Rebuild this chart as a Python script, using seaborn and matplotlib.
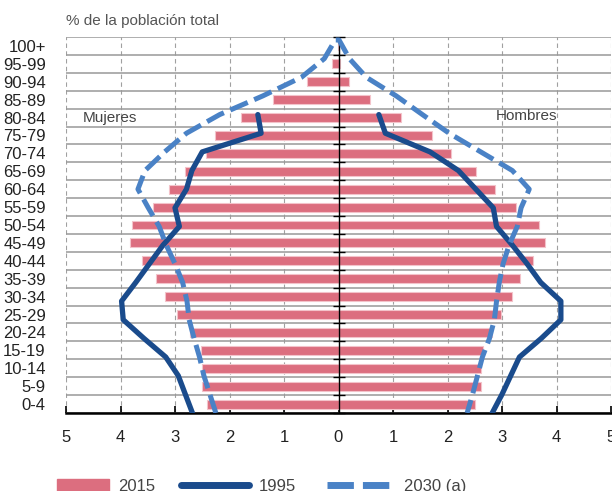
import numpy as np
import pandas as pd
import matplotlib
matplotlib.use("Agg")
import matplotlib.pyplot as plt
import matplotlib.lines as mlines
import matplotlib.patches as mpatches
import seaborn as sns

# Age groups, bottom (0-4) to top (100+)
ages = ["0-4", "5-9", "10-14", "15-19", "20-24", "25-29", "30-34", "35-39",
        "40-44", "45-49", "50-54", "55-59", "60-64", "65-69", "70-74",
        "75-79", "80-84", "85-89", "90-94", "95-99", "100+"]

# 2015 bars (% of total population)
women_2015 = [2.41, 2.51, 2.50, 2.53, 2.72, 2.97, 3.19, 3.34, 3.60, 3.83, 3.78,
              3.41, 3.11, 2.82, 2.44, 2.27, 1.79, 1.20, 0.58, 0.12, 0.01]
men_2015 = [2.51, 2.62, 2.62, 2.66, 2.81, 2.99, 3.18, 3.33, 3.57, 3.79, 3.68,
            3.25, 2.88, 2.52, 2.06, 1.72, 1.14, 0.58, 0.19, 0.02, 0.01]

# 1995 lines (no data above 80-84)
women_1995 = [2.68, 2.81, 2.94, 3.17, 3.57, 3.95, 3.98, 3.72, 3.47, 3.22, 2.92,
              3.00, 2.79, 2.69, 2.50, 1.42, 1.48, np.nan, np.nan, np.nan, np.nan]
men_1995 = [2.82, 3.00, 3.16, 3.32, 3.72, 4.08, 4.08, 3.71, 3.46, 3.19, 2.90,
            2.84, 2.52, 2.20, 1.68, 0.86, 0.74, np.nan, np.nan, np.nan, np.nan]

# 2030 projection
women_2030 = [2.25, 2.36, 2.47, 2.55, 2.65, 2.74, 2.78, 2.86, 3.00, 3.16, 3.29,
              3.49, 3.68, 3.55, 3.19, 2.79, 2.18, 1.39, 0.68, 0.26, 0.06]
men_2030 = [2.36, 2.46, 2.55, 2.64, 2.77, 2.86, 2.90, 2.95, 3.02, 3.13, 3.28,
            3.35, 3.50, 3.19, 2.61, 2.03, 1.54, 1.06, 0.51, 0.20, 0.01]

x_ticks = [-5, -4, -3, -2, -1, 0, 1, 2, 3, 4, 5]

pink = "#dc6e7f"
dark_blue = "#1a4b8c"
light_blue = "#4a82c6"

sns.set_style("white")
plt.rcParams["font.family"] = ["Liberation Sans", "DejaVu Sans"]

fig = plt.figure(figsize=(6.12, 4.91), dpi=100)
ax = fig.add_axes([66 / 612, 78 / 491, 545 / 612, 376 / 491])
# twin axis for the lines (created first: twinx resets tick positions)
ax2 = ax.twinx()

# Bars (women on the left as negative values)
women = pd.DataFrame({"age": ages, "value": [-v for v in women_2015]})
men = pd.DataFrame({"age": ages, "value": men_2015})
for part in [women, men]:
    sns.barplot(data=part, x="value", y="age", order=ages[::-1], orient="h",
                color=pink, saturation=1, width=0.5, edgecolor="#f3c3ca",
                linewidth=0.8, errorbar=None, zorder=2, ax=ax)

ax.set_xlim(-5, 5)
ax.set_ylim(20.5, -0.5)
ax.set_xticks(x_ticks)
ax.set_xticklabels([str(abs(t)) for t in x_ticks])
ax.set_xlabel("")
ax.set_ylabel("")

# Grid: dashed verticals, solid horizontals between age groups
ax.grid(axis="x", which="major", ls=(0, (4, 3)), color="#a0a0a0", lw=0.8)
ax.set_axisbelow(True)
bounds = np.arange(len(ages) + 1) - 0.5
ax.hlines(bounds, -5, 5, colors="#999999", lw=1.1, zorder=0.8)

# Center axis with tick marks at group boundaries
for s in ["top", "left", "right"]:
    ax.spines[s].set_visible(False)
ax.axvline(0, color="black", lw=1.0, zorder=3)
ax.plot(np.zeros(len(bounds)), bounds, ls="none", marker="_", ms=8,
        mew=1.0, color="black", zorder=3, clip_on=False)
ax.spines["bottom"].set_color("black")
ax.spines["bottom"].set_linewidth(1.8)
ax.tick_params(axis="y", which="major", left=False, right=False,
               labelleft=True, labelright=False, pad=11,
               labelsize=12, labelcolor="#222222")
ax.tick_params(axis="x", which="major", bottom=True, direction="in",
               length=5, width=1.2, color="black", pad=12,
               labelsize=12, labelcolor="#222222")

# Lines on the twin axis (Excel-like secondary scale)
pos = np.arange(len(ages))
sns.lineplot(x=-np.array(women_1995), y=pos, sort=False, estimator=None,
             color=dark_blue, lw=3.8, ax=ax2)
sns.lineplot(x=np.array(men_1995), y=pos, sort=False, estimator=None,
             color=dark_blue, lw=3.8, ax=ax2)

x_2030 = np.concatenate([-np.array(women_2030), np.array(men_2030)[::-1]])
y_2030 = np.concatenate([pos, pos[::-1]])
sns.lineplot(x=x_2030, y=y_2030, sort=False, estimator=None,
             color=light_blue, lw=3.6, ax=ax2)
ax2.lines[-1].set_dashes((3.8, 1.4))
ax2.set_ylim(0, 20.16)
ax2.set_xlim(-5, 5)
ax2.set_axis_off()

# Annotations
fig.text(66 / 612, 1 - 21 / 491, "% de la población total", fontsize=11,
         color="#555555", va="center", ha="left")
ax.text(-4.69, 4, "Mujeres", fontsize=11, color="#444444", va="center")
ax.text(2.89, 3.9, "Hombres", fontsize=11, color="#444444", va="center")

# Legend along the bottom edge (cut by the frame as in the original)
entries = [
    (mpatches.Patch(color=pink, label="2015"), 57 / 612, 3.1),
    (mlines.Line2D([], [], color=dark_blue, lw=5, label="1995"), 181 / 612, 4.1),
    (mlines.Line2D([], [], color=light_blue, lw=5, dashes=(3.8, 1.3),
                   label="2030 (a)"), 327 / 612, 4.1),
]
for handle, x0, hl in entries:
    fig.legend(handles=[handle], loc="center left", bbox_to_anchor=(x0, 0.01),
               frameon=False, handlelength=hl, handletextpad=0.55,
               borderaxespad=0, borderpad=0,
               prop={"size": 12}, labelcolor="#444444")

fig.savefig("out.png", dpi=100)
